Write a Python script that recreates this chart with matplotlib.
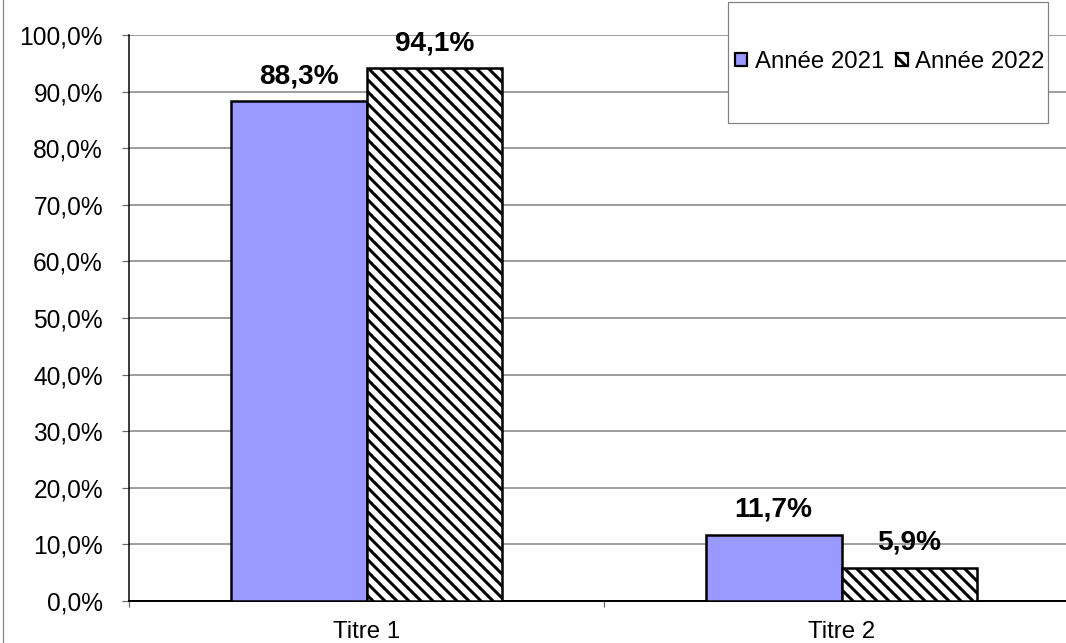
import matplotlib
matplotlib.use("Agg")
import matplotlib.pyplot as plt
from matplotlib.patches import Rectangle, Patch
from matplotlib.lines import Line2D
from matplotlib.ticker import FuncFormatter, MultipleLocator
import numpy as np

categories = ["Titre 1", "Titre 2"]
series_names = ["Année 2021", "Année 2022"]
values_2021 = [0.883, 0.117]
values_2022 = [0.941, 0.059]
label_2021 = ["88,3%", "11,7%"]
label_2022 = ["94,1%", "5,9%"]

plt.rcParams['font.family'] = ['Liberation Sans', 'DejaVu Sans']
plt.rcParams['hatch.linewidth'] = 3.0
plt.rcParams['hatch.color'] = 'black'

DPI = 72
fig = plt.figure(figsize=(1066 / DPI, 643 / DPI), dpi=DPI)
fig.patch.set_facecolor('white')

W, H = 1066, 643
ax = fig.add_axes([129 / W, 42 / H, (1079 - 129) / W, (601 - 35) / H])
ax.set_facecolor('white')

x = np.arange(len(categories))
w = 0.286
b1 = ax.bar(x - w / 2, values_2021, width=w, color='#9999FF', edgecolor='black', linewidth=2.5, zorder=3)
b2 = ax.bar(x + w / 2, values_2022, width=w, color='white', edgecolor='black', linewidth=2.5,
            hatch='\\\\', zorder=3)

for rect, lab in zip(b1, label_2021):
    ax.annotate(lab, (rect.get_x() + rect.get_width() / 2, rect.get_height()),
                xytext=(0, 18), textcoords='offset points', ha='center', va='baseline',
                fontsize=28, fontweight='bold', zorder=5)
for rect, lab in zip(b2, label_2022):
    ax.annotate(lab, (rect.get_x() + rect.get_width() / 2, rect.get_height()),
                xytext=(0, 18), textcoords='offset points', ha='center', va='baseline',
                fontsize=28, fontweight='bold', zorder=5)

ax.set_xlim(-0.5, 1.5)
ax.set_ylim(0, 1.0)
ax.yaxis.set_major_locator(MultipleLocator(0.1))
ax.yaxis.set_major_formatter(FuncFormatter(lambda v, p: f"{v*100:.1f}%".replace('.', ',')))
ax.grid(axis='y', color='#888888', linewidth=1.6, zorder=0)
ax.set_axisbelow(True)

ax.set_xticks(x)
ax.set_xticklabels(categories)
ax.set_xticks([-0.5, 0.5, 1.5], minor=True)
ax.tick_params(axis='x', which='major', length=0, pad=20, labelsize=24)
ax.tick_params(axis='x', which='minor', length=6, width=1.2, color='#666666')
ax.tick_params(axis='y', which='major', length=7, width=1.2, color='#666666', pad=19, labelsize=24.5)

for s in ['top', 'right']:
    ax.spines[s].set_visible(False)
ax.spines['left'].set_color('black')
ax.spines['left'].set_linewidth(1.5)
ax.spines['bottom'].set_color('black')
ax.spines['bottom'].set_linewidth(2.0)

# legend box
fig.patches.append(Rectangle((728 / W, 1 - 123 / H), (1048 - 728) / W, (123 - 2) / H,
                             transform=fig.transFigure, facecolor='white', edgecolor='#808080',
                             linewidth=1.2, zorder=10))
handles = [Patch(facecolor='#9999FF', edgecolor='black', linewidth=2.2),
           Patch(facecolor='white', edgecolor='black', linewidth=2.2, hatch='\\\\')]
leg = fig.legend(handles, series_names, loc='center', bbox_to_anchor=(890 / W, 1 - 62 / H),
                 ncol=2, frameon=False, fontsize=24, handlelength=0.5, handleheight=0.5,
                 handletextpad=0.3, columnspacing=0.5, borderpad=0)
leg.set_zorder(11)

# left border line of chart area
fig.add_artist(Line2D([3 / W, 3 / W], [0, 1], transform=fig.transFigure, color='#808080', linewidth=1.2))

fig.savefig('out.png', dpi=DPI, facecolor='white')
